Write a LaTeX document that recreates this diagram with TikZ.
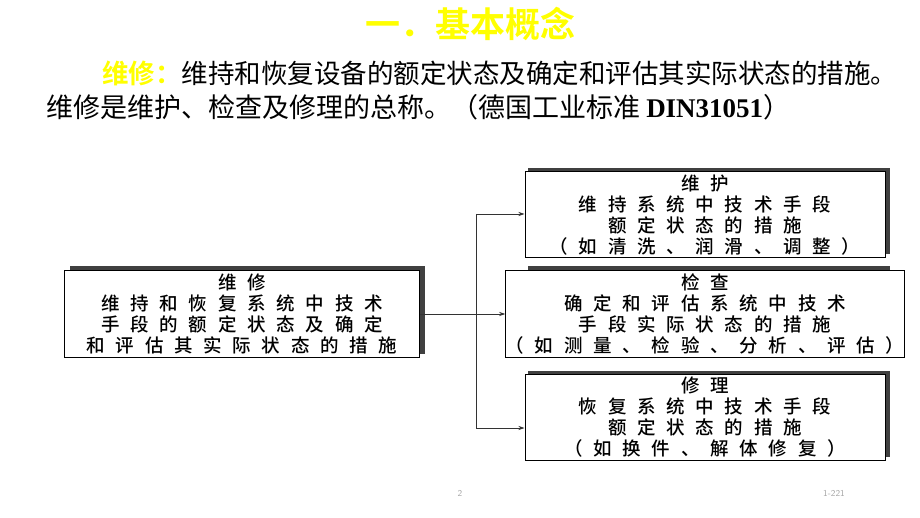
\documentclass[tikz,border=0pt]{standalone}
\usepackage{fontspec}
\usetikzlibrary{arrows.meta}
\newfontfamily\cjk{Noto Sans CJK SC}
\newfontfamily\cjkb{Noto Sans CJK SC Bold}
\newfontfamily\cjkbox[LetterSpace=58]{Noto Sans CJK SC Medium}
\newfontfamily\tnr{Liberation Serif}
\definecolor{ttl}{RGB}{255,255,0}
\begin{document}
\begin{tikzpicture}[x=1pt,y=-1pt,
  box/.style={draw=black,line width=1pt,fill=white,align=center,inner sep=0pt,font=\cjkbox\fontsize{18.5}{21}\selectfont},
  conn/.style={draw=black!80,line width=0.8pt},
  arr/.style={conn,-{Stealth[length=6pt,width=4pt]}}]
\useasboundingbox (0,0) rectangle (920,518);
% title
\node (title) [text=ttl,font=\cjkb\fontsize{35}{36}\selectfont] at (470,24) {一．基本概念};
\node (l1) [anchor=west,font=\cjk\fontsize{26.5}{28}\selectfont,inner sep=0pt] at (102,73) {{\cjkb\color{ttl}维修：}维持和恢复设备的额定状态及确定和评估其实际状态的措施。};
\node (l2) [anchor=west,font=\cjk\fontsize{27}{28}\selectfont,inner sep=0pt] at (46,107) {维修是维护、检查及修理的总称。（德国工业标准 {\tnr\bfseries DIN31051}）};
% shadows
\foreach \a/\b/\c/\d in {70/266/425/354, 528/168/890/254, 528/266/890/354, 528/371/890/457}
  \fill[black!75] (\a,\b) rectangle (\c,\d);
\node (m) [box,minimum width=355pt,minimum height=87pt] at (242,314) {维修\\维持和恢复系统中技术\\手段的额定状态及确定\\和评估其实际状态的措施};
\node (a) [box,minimum width=360pt,minimum height=86pt] at (705,215) {维护\\维持系统中技术手段\\额定状态的措施\\（如清洗、润滑、调整）};
\node (b) [box,minimum width=360pt,minimum height=87pt] at (705,314) {检查\\确定和评估系统中技术\\手段实际状态的措施\\（如测量、检验、分析、评估）};
\node (c) [box,minimum width=360pt,minimum height=86pt] at (705,417) {修理\\恢复系统中技术手段\\额定状态的措施\\（如换件、解体修复）};
\coordinate (j) at (476,314);
\coordinate (jt) at (476,214);
\coordinate (jb) at (476,428);
\draw[conn] (m.east) -- (j);
\draw[conn] (jt) -- (jb);
\draw[arr] (jt) -- (jt -| a.west);
\draw[arr] (j) -- (b.west);
\draw[arr] (jb) -- (jb -| c.west);
\node (p) [text=gray!70,font=\sffamily\fontsize{9}{10}\selectfont] at (460,493) {2};
\node (q) [text=gray!70,font=\sffamily\fontsize{9}{10}\selectfont] at (834,493) {1-221};
\end{tikzpicture}
\end{document}
